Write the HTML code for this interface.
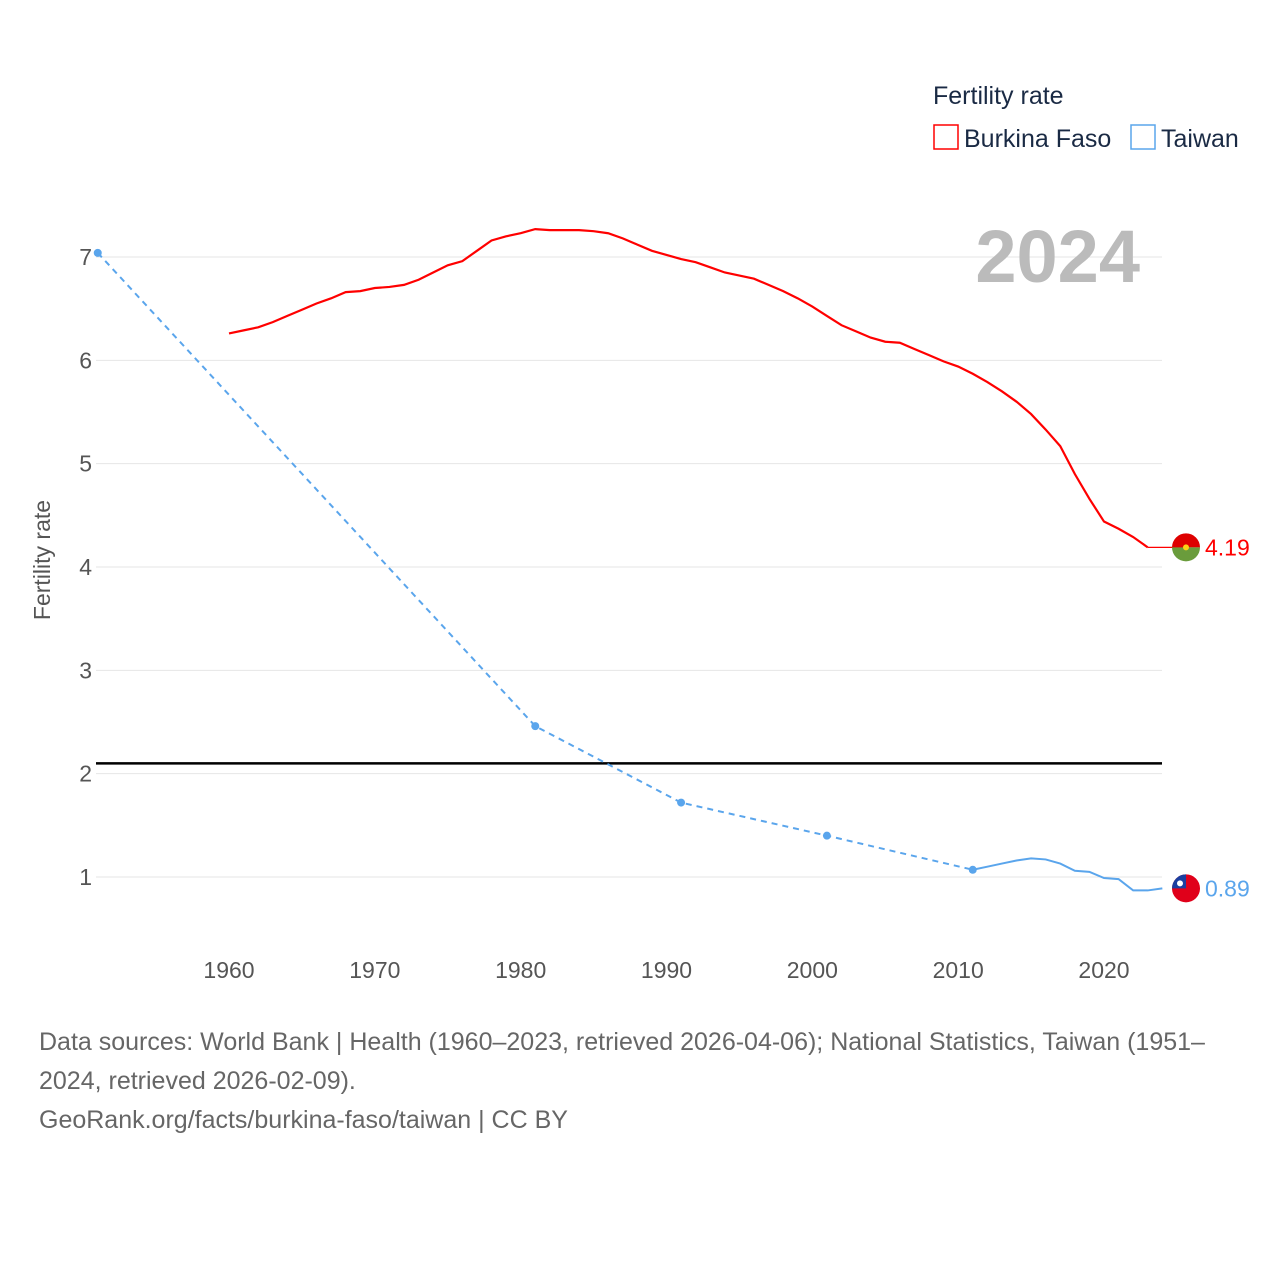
<!DOCTYPE html>
<html><head><meta charset="utf-8"><style>
body{margin:0;background:#fff;font-family:"Liberation Sans",sans-serif}
svg text{font-family:"Liberation Sans",sans-serif}
.foot{position:absolute;left:39px;top:1023px;width:1210px;font-size:25px;line-height:39px;color:#666}
</style></head><body>
<svg id="chart" width="1280" height="1280" xmlns="http://www.w3.org/2000/svg" style="position:absolute;left:0;top:0">
<g id="grid"></g><g id="ticks"></g><g id="series"></g>
<text transform="translate(50,560) rotate(-90)" text-anchor="middle" font-size="23" fill="#555">Fertility rate</text>
<text x="1140" y="282" text-anchor="end" font-size="74" font-weight="bold" fill="#bbb">2024</text>
<g>
<text x="933" y="104" font-size="25" fill="#1a2a44">Fertility rate</text>
<g><rect x="934" y="125" width="24" height="24" fill="none" stroke="#f00" stroke-width="1.5"/><text x="964" y="147" font-size="25" fill="#1a2a44">Burkina Faso</text></g>
<g><rect x="1131" y="125" width="24" height="24" fill="none" stroke="#5aa5ec" stroke-width="1.5"/><text x="1161" y="147" font-size="25" fill="#1a2a44">Taiwan</text></g>
</g>
</svg>
<div class="foot">Data sources: World Bank | Health (1960–2023, retrieved 2026-04-06); National Statistics, Taiwan (1951–2024, retrieved 2026-02-09).<br>GeoRank.org/facts/burkina-faso/taiwan | CC BY</div>
<script>
const yTicks=[1,2,3,4,5,6,7];
const xTicks=[1960,1970,1980,1990,2000,2010,2020];
const bfYears=[];for(let y=1960;y<=2023;y++)bfYears.push(y);
const bfValues=[6.26,6.29,6.32,6.37,6.43,6.49,6.55,6.60,6.66,6.67,6.70,6.71,6.73,6.78,6.85,6.92,6.96,7.06,7.16,7.20,7.23,7.27,7.26,7.26,7.26,7.25,7.23,7.18,7.12,7.06,7.02,6.98,6.95,6.90,6.85,6.82,6.79,6.73,6.67,6.60,6.52,6.43,6.34,6.28,6.22,6.18,6.17,6.11,6.05,5.99,5.94,5.87,5.79,5.70,5.60,5.48,5.33,5.17,4.90,4.66,4.44,4.37,4.29,4.19];
const twSparseYears=[1951,1981,1991,2001,2011];
const twSparseValues=[7.04,2.46,1.72,1.40,1.07];
const twYears=[2011,2012,2013,2014,2015,2016,2017,2018,2019,2020,2021,2022,2023,2024];
const twValues=[1.07,1.10,1.13,1.16,1.18,1.17,1.13,1.06,1.05,0.99,0.98,0.87,0.87,0.89];
const refValue=2.1;
const X=y=>229+(y-1960)*875/60;
const Y=v=>877-(v-1)*620/6;
const NS="http://www.w3.org/2000/svg";
function mk(tag,attrs,parent){const e=document.createElementNS(NS,tag);for(const k in attrs)e.setAttribute(k,attrs[k]);document.getElementById(parent).appendChild(e);return e;}
yTicks.forEach(v=>{
 const l=mk('line',{x1:96,x2:1162,y1:Y(v),y2:Y(v),stroke:'#e6e6e6','stroke-width':1},'grid');
 
 
 const t=mk('text',{x:92,y:Y(v)+8,'text-anchor':'end','font-size':23,fill:'#555'},'ticks');t.textContent=v;
 
 
});
xTicks.forEach(y=>{
 const t=mk('text',{x:X(y),y:978,'text-anchor':'middle','font-size':23,fill:'#555'},'ticks');t.textContent=y;
 
 
});
const ref=mk('line',{x1:96,x2:1162,y1:Y(refValue),y2:Y(refValue),stroke:'#000','stroke-width':2.5},'series');


const bf=mk('polyline',{points:bfYears.map((y,i)=>X(y)+','+Y(bfValues[i])).join(' '),fill:'none',stroke:'#f00','stroke-width':2.2},'series');


const last=bfValues[bfValues.length-1];
const bfx=mk('line',{x1:X(2023),x2:1186,y1:Y(last),y2:Y(last),stroke:'#f00','stroke-width':1.2},'series');


const twd=mk('polyline',{points:twSparseYears.map((y,i)=>X(y)+','+Y(twSparseValues[i])).join(' '),fill:'none',stroke:'#5aa5ec','stroke-width':2,'stroke-dasharray':'6,5'},'series');


twSparseYears.forEach((y,i)=>{const c=mk('circle',{cx:X(y),cy:Y(twSparseValues[i]),r:4,fill:'#5aa5ec'},'series');
 
 });
const tw=mk('polyline',{points:twYears.map((y,i)=>X(y)+','+Y(twValues[i])).join(' '),fill:'none',stroke:'#5aa5ec','stroke-width':2},'series');


const twl=twValues[twValues.length-1];
// flags
const by=Y(last);
const f1=mk('g',{},'series');f1.setAttribute('id','f1');


mk('path',{d:`M1172,${by} a14,14 0 0 1 28,0 z`,fill:'#de0000'},'f1');
mk('path',{d:`M1172,${by} a14,14 0 0 0 28,0 z`,fill:'#6a9c3c'},'f1');
mk('circle',{cx:1186,cy:by,r:3,fill:'#fcd116'},'f1');
const vl1=mk('text',{x:1205,y:by+8,'font-size':23,fill:'#f00'},'series');vl1.textContent=last.toFixed(2);


const ty=Y(twl);
const f2=mk('g',{},'series');f2.setAttribute('id','f2');


mk('circle',{cx:1186,cy:ty,r:14,fill:'#e0001a'},'f2');
mk('path',{d:`M1172,${ty} a14,14 0 0 1 14,-14 v14 z`,fill:'#1a3fa0'},'f2');
mk('circle',{cx:1180,cy:ty-5,r:3,fill:'#fff'},'f2');
const vl2=mk('text',{x:1205,y:ty+8,'font-size':23,fill:'#5aa5ec'},'series');vl2.textContent=twl.toFixed(2);


</script>
</body></html>
